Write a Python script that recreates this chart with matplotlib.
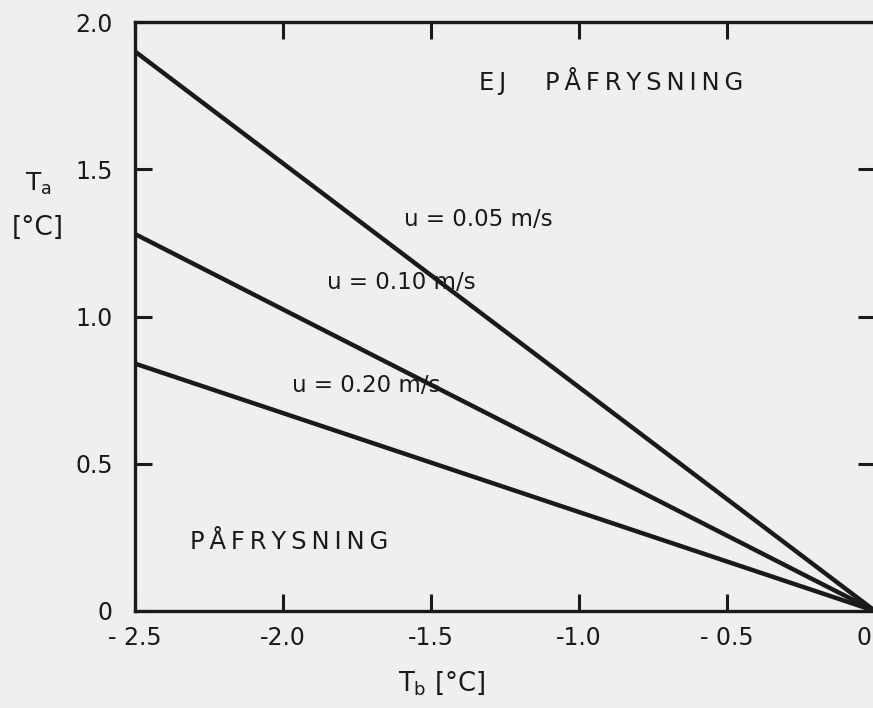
import matplotlib
matplotlib.use("Agg")
import matplotlib.pyplot as plt
import matplotlib.transforms as mtransforms

plt.rcParams['font.family'] = ['DejaVu Sans']
plt.rcParams['mathtext.default'] = 'regular'

# Data
tb_start = -2.5
tb_end = 0.0
velocities = ["0.05", "0.10", "0.20"]
ta_start = [1.90, 1.28, 0.84]
ta_end = [0.0, 0.0, 0.0]
xticks = [-2.5, -2.0, -1.5, -1.0, -0.5, 0.0]
xticklabels = ["- 2.5", "-2.0", "-1.5", "-1.0", "- 0.5", "0"]
yticks = [0.0, 0.5, 1.0, 1.5, 2.0]
yticklabels = ["0", "0.5", "1.0", "1.5", "2.0"]
line_labels = ["u = 0.05 m/s", "u = 0.10 m/s", "u = 0.20 m/s"]
label_pos = [(-1.34, 1.33), (-1.60, 1.115), (-1.72, 0.765)]

ink = '#1a1a1a'
bg = '#efefed'
ts = '\u2009'
fig = plt.figure(figsize=(8.73, 7.08), dpi=100, facecolor=bg)
ax = fig.add_axes([135/873, 1-611/708, 740/873, 589/708], facecolor=bg)

for s, e in zip(ta_start, ta_end):
    ax.plot([tb_start, tb_end], [s, e], color=ink, lw=3.2, solid_capstyle='butt', clip_on=False)

for (x, y), t in zip(label_pos, line_labels):
    ax.text(x, y, t, ha='center', va='center', fontsize=16.5, color=ink)

ej = "E" + ts + "J" + "     " + ts.join("PÅFRYSNING")
ax.text(-0.89, 1.80, ej, ha='center', va='center', fontsize=17.5, color=ink)
ax.text(-1.98, 0.235, ts.join("PÅFRYSNING"), ha='center', va='center', fontsize=17.5, color=ink)

ax.set_xlim(-2.5, 0.0)
ax.set_ylim(0.0, 2.0)
ax.set_xticks(xticks)
ax.set_xticklabels(xticklabels)
ax.set_yticks(yticks)
ax.set_yticklabels(yticklabels)
ax.tick_params(direction='in', length=12, width=2.2, top=True, right=True,
               labelsize=17, colors=ink, pad=11)
ax.tick_params(axis='y', pad=16)
for sp in ax.spines.values():
    sp.set_linewidth(2.4)
    sp.set_color(ink)

# the last x tick label sits at the image edge; nudge it inward so it stays visible
last = ax.get_xticklabels()[-1]
last.set_transform(last.get_transform() + mtransforms.ScaledTranslation(-11/100, 0, fig.dpi_scale_trans))

fig.text(38/873, 1-184/708, "T$_a$", ha='center', va='center', fontsize=18, color=ink)
fig.text(38/873, 1-228/708, "[°C]", ha='center', va='center', fontsize=19, color=ink)
fig.text(442/873, 1-683/708, "T$_b$ [°C]", ha='center', va='center', fontsize=18.5, color=ink)

fig.savefig("out.png", dpi=100, facecolor=bg)
